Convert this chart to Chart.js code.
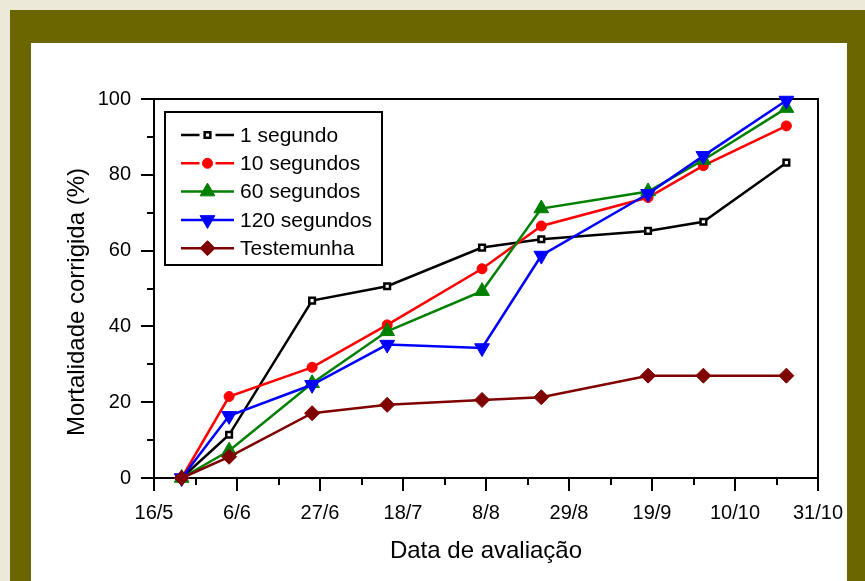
<!DOCTYPE html>
<html>
<head>
<meta charset="utf-8">
<script src="https://cdn.jsdelivr.net/npm/chart.js@4"></script>
<style>
html,body{margin:0;padding:0;background:#ECE9D8;}
canvas{display:block;}
</style>
</head>
<body>
<canvas id="c" width="865" height="581"></canvas>
<script>
// ---- data ----
const evalDates   = ['23/5','4/6','25/6','14/7','7/8','22/8','18/9','2/10','23/10'];
const xTickLabels = ['16/5','6/6','27/6','18/7','8/8','29/8','19/9','10/10','31/10'];
const seriesNames = ['1 segundo','10 segundos','60 segundos','120 segundos','Testemunha'];
const s1sec   = [0, 11.4, 46.8, 50.6, 60.8, 63.0, 65.2, 67.6, 83.2];
const s10sec  = [0, 21.5, 29.2, 40.4, 55.2, 66.5, 74.0, 82.4, 92.9];
const s60sec  = [0,  7.2, 25.0, 38.7, 49.3, 71.1, 75.6, 83.9, 97.6];
const s120sec = [0, 16.4, 24.6, 35.2, 34.3, 58.7, 75.0, 85.0, 99.6];
const sTest   = [0,  5.6, 17.1, 19.3, 20.6, 21.3, 27.0, 27.0, 27.0];
const yAxisTitle = 'Mortalidade corrigida (%)';
const xAxisTitle = 'Data de avaliação';

// day offset from the first tick label (16/5)
function dayOffset(str){
  const [d,m] = str.split('/').map(Number);
  const [d0,m0] = xTickLabels[0].split('/').map(Number);
  return Math.round((Date.UTC(2001,m-1,d) - Date.UTC(2001,m0-1,d0)) / 86400000);
}
const xDays = evalDates.map(dayOffset);
const majorX = xTickLabels.map(dayOffset);
const minorX = majorX.slice(0,-1).map((v,i)=>(v+majorX[i+1])/2);
const xMin = majorX[0], xMax = majorX[majorX.length-1];

const FONT = '"Liberation Sans", Arial, Helvetica, sans-serif';
const pts = arr => arr.map((v,i)=>({x:xDays[i], y:v}));

const styles = [
  {color:'#000000', pointStyle:'rect',     radius:4,   bg:'#ffffff', bw:2.5, rot:0,   order:5},
  {color:'#ff0000', pointStyle:'circle',   radius:5,   bg:'#ff0000', bw:1,   rot:0,   order:4},
  {color:'#008000', pointStyle:'triangle', radius:8.5, bg:'#008000', bw:1,   rot:0,   order:3},
  {color:'#0000ff', pointStyle:'triangle', radius:8.5, bg:'#0000ff', bw:1,   rot:180, order:2},
  {color:'#800000', pointStyle:'rectRot',  radius:7.5, bg:'#800000', bw:1,   rot:0,   order:1}
];
const seriesData = [s1sec, s10sec, s60sec, s120sec, sTest];

const datasets = seriesData.map((arr,i)=>({
  label: seriesNames[i],
  data: pts(arr),
  xAxisID:'x', yAxisID:'y',
  borderColor: styles[i].color,
  backgroundColor: styles[i].bg,
  borderWidth: 2.5,
  pointStyle: styles[i].pointStyle,
  pointRadius: styles[i].radius,
  pointRotation: styles[i].rot,
  pointBackgroundColor: styles[i].bg,
  pointBorderColor: styles[i].color,
  pointBorderWidth: styles[i].bw,
  tension: 0,
  clip: false,
  order: styles[i].order
}));

const framePlugin = {
  id:'frame',
  beforeDraw(chart){
    const ctx = chart.ctx;
    ctx.save();
    ctx.fillStyle = '#ECE9D8'; ctx.fillRect(0,0,865,581);
    ctx.fillStyle = '#6c6600'; ctx.fillRect(10,10,855,571);
    ctx.fillStyle = '#ffffff'; ctx.fillRect(31,43,816,538);
    ctx.restore();
  },
  afterDraw(chart){
    const ctx = chart.ctx;
    ctx.save();
    // y axis title
    ctx.translate(77, 302);
    ctx.rotate(-Math.PI/2);
    ctx.fillStyle = '#000';
    ctx.font = '24px ' + FONT;
    ctx.textAlign = 'center';
    ctx.textBaseline = 'middle';
    ctx.fillText(yAxisTitle, 0, 0);
    ctx.restore();

    // legend
    ctx.save();
    const bx=165, by=112, bw=217, bh=153;
    ctx.fillStyle='#fff'; ctx.fillRect(bx,by,bw,bh);
    ctx.strokeStyle='#000'; ctx.lineWidth=2; ctx.strokeRect(bx,by,bw,bh);
    chart.data.datasets.forEach((ds,i)=>{
      const y = 135 + i*28.3;
      const x0=181, x1=234, xm=207.5;
      ctx.strokeStyle = ds.borderColor; ctx.lineWidth = 2.5;
      const gap = (i<2) ? 8 : 0;
      ctx.beginPath();
      ctx.moveTo(x0,y); ctx.lineTo(xm-gap,y);
      ctx.moveTo(xm+gap,y); ctx.lineTo(x1,y);
      ctx.stroke();
      const opts = {pointStyle: ds.pointStyle, radius: ds.pointRadius, rotation: ds.pointRotation, borderWidth: ds.pointBorderWidth};
      ctx.fillStyle = ds.pointBackgroundColor;
      ctx.strokeStyle = ds.pointBorderColor;
      ctx.lineWidth = ds.pointBorderWidth;
      Chart.helpers.drawPoint(ctx, opts, xm, y);
      ctx.fillStyle='#000';
      ctx.font='21px ' + FONT;
      ctx.textAlign='left'; ctx.textBaseline='middle';
      ctx.fillText(ds.label, 240, y+1);
    });
    ctx.restore();
  }
};

const tickFont = {family:FONT, size:20};
new Chart(document.getElementById('c'), {
  type:'line',
  data:{datasets},
  plugins:[framePlugin],
  options:{
    responsive:false, animation:false, devicePixelRatio:1,
    layout:{padding:{left:0, top:99, right:47, bottom:0}},
    plugins:{legend:{display:false}, tooltip:{enabled:false}},
    scales:{
      x:{
        type:'linear', position:'bottom', weight:10, min:xMin, max:xMax,
        afterBuildTicks: s => { s.ticks = majorX.map(v=>({value:v})); },
        afterFit: s => { s.height = 103; },
        grid:{drawOnChartArea:false, drawTicks:true, tickLength:13, color:'#000', lineWidth:2},
        border:{display:true, color:'#000', width:2},
        ticks:{autoSkip:false, maxRotation:0, padding:10, color:'#000', font:tickFont,
          callback: v => { const i = majorX.indexOf(Math.round(v)); return i>=0 ? xTickLabels[i] : ''; }},
        title:{display:true, text:xAxisTitle, color:'#000', font:{family:FONT, size:24}, padding:{top:0, bottom:15}}
      },
      xMinor:{
        type:'linear', position:'bottom', weight:0, min:xMin, max:xMax,
        afterBuildTicks: s => { s.ticks = minorX.map(v=>({value:v})); },
        afterFit: s => { s.height = 0; },
        grid:{drawOnChartArea:false, drawTicks:true, tickLength:7, color:'#000', lineWidth:2},
        border:{display:false},
        ticks:{display:false}
      },
      xTop:{
        type:'linear', position:'top', min:xMin, max:xMax,
        afterFit: s => { s.height = 0; },
        grid:{display:false},
        border:{display:true, color:'#000', width:2},
        ticks:{display:false}
      },
      y:{
        type:'linear', position:'left', weight:10, min:0, max:100,
        afterFit: s => { s.width = 154; },
        grid:{drawOnChartArea:false, drawTicks:true, tickLength:13, color:'#000', lineWidth:2},
        border:{display:true, color:'#000', width:2},
        ticks:{stepSize:20, padding:10, color:'#000', font:tickFont}
      },
      yMinor:{
        type:'linear', position:'left', weight:0, min:0, max:100,
        afterFit: s => { s.width = 0; },
        grid:{drawOnChartArea:false, drawTicks:true, tickLength:7, color:'#000', lineWidth:2},
        border:{display:false},
        ticks:{stepSize:10, display:false}
      },
      yRight:{
        type:'linear', position:'right', min:0, max:100,
        afterFit: s => { s.width = 0; },
        grid:{display:false},
        border:{display:true, color:'#000', width:2},
        ticks:{display:false}
      }
    }
  }
});
</script>
</body>
</html>
